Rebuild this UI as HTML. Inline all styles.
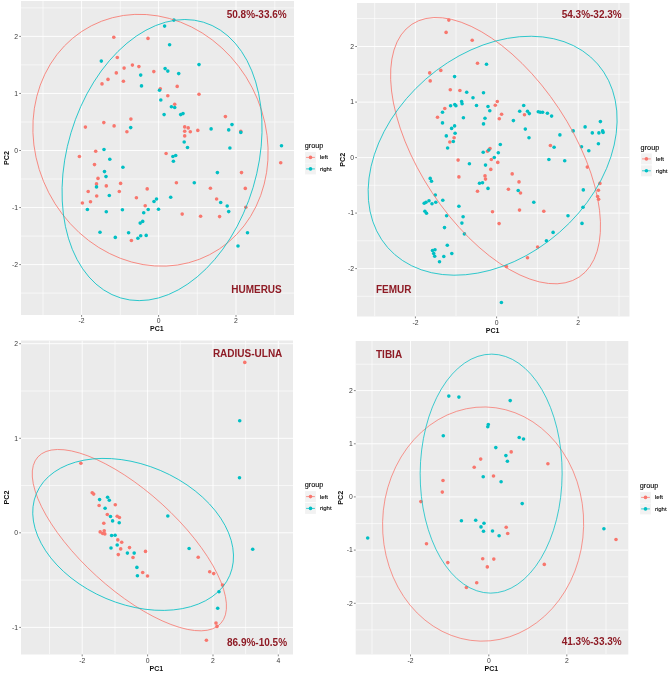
<!DOCTYPE html>
<html><head><meta charset="utf-8"><title>PCA</title>
<style>
html,body{margin:0;padding:0;background:#fff}
svg{display:block}
text{font-family:"Liberation Sans",Arial,sans-serif}
.tk{font-size:6.8px;fill:#3a3a3a}
.ax{font-size:8px;font-weight:bold;fill:#111}
.lb{font-size:10px;font-weight:bold;fill:#8E1B25}
.lt{font-size:7.3px;fill:#000;stroke:#000;stroke-width:0.1px}
.lg{font-size:6px;fill:#000;stroke:#000;stroke-width:0.1px}
</style></head><body>
<svg width="669" height="675" viewBox="0 0 669 675">
<rect width="669" height="675" fill="#fff"/>
<clipPath id="c0"><rect x="21" y="1" width="273" height="314"/></clipPath>
<rect x="21" y="1" width="273" height="314" fill="#EBEBEB"/>
<g clip-path="url(#c0)">
<line x1="43" x2="43" y1="1" y2="315" stroke="#FFFFFF" stroke-width="0.6"/>
<line x1="120.3" x2="120.3" y1="1" y2="315" stroke="#FFFFFF" stroke-width="0.6"/>
<line x1="197.3" x2="197.3" y1="1" y2="315" stroke="#FFFFFF" stroke-width="0.6"/>
<line x1="274.8" x2="274.8" y1="1" y2="315" stroke="#FFFFFF" stroke-width="0.6"/>
<line y1="7.9" y2="7.9" x1="21" x2="294" stroke="#FFFFFF" stroke-width="0.6"/>
<line y1="64.9" y2="64.9" x1="21" x2="294" stroke="#FFFFFF" stroke-width="0.6"/>
<line y1="122" y2="122" x1="21" x2="294" stroke="#FFFFFF" stroke-width="0.6"/>
<line y1="179" y2="179" x1="21" x2="294" stroke="#FFFFFF" stroke-width="0.6"/>
<line y1="236.1" y2="236.1" x1="21" x2="294" stroke="#FFFFFF" stroke-width="0.6"/>
<line y1="293.1" y2="293.1" x1="21" x2="294" stroke="#FFFFFF" stroke-width="0.6"/>
<line x1="81.6" x2="81.6" y1="1" y2="315" stroke="#FFFFFF" stroke-width="0.9"/>
<line x1="158.6" x2="158.6" y1="1" y2="315" stroke="#FFFFFF" stroke-width="0.9"/>
<line x1="236" x2="236" y1="1" y2="315" stroke="#FFFFFF" stroke-width="0.9"/>
<line y1="36.4" y2="36.4" x1="21" x2="294" stroke="#FFFFFF" stroke-width="0.9"/>
<line y1="93.45" y2="93.45" x1="21" x2="294" stroke="#FFFFFF" stroke-width="0.9"/>
<line y1="150.5" y2="150.5" x1="21" x2="294" stroke="#FFFFFF" stroke-width="0.9"/>
<line y1="207.55" y2="207.55" x1="21" x2="294" stroke="#FFFFFF" stroke-width="0.9"/>
<line y1="264.6" y2="264.6" x1="21" x2="294" stroke="#FFFFFF" stroke-width="0.9"/>
<circle cx="113.8" cy="37.2" r="1.8" fill="#F8766D"/>
<circle cx="148.0" cy="38.4" r="1.8" fill="#F8766D"/>
<circle cx="117.3" cy="57.5" r="1.8" fill="#F8766D"/>
<circle cx="132.4" cy="65.1" r="1.8" fill="#F8766D"/>
<circle cx="138.9" cy="66.6" r="1.8" fill="#F8766D"/>
<circle cx="124.1" cy="68.1" r="1.8" fill="#F8766D"/>
<circle cx="153.8" cy="71.6" r="1.8" fill="#F8766D"/>
<circle cx="116.3" cy="72.9" r="1.8" fill="#F8766D"/>
<circle cx="108.0" cy="79.4" r="1.8" fill="#F8766D"/>
<circle cx="123.4" cy="81.2" r="1.8" fill="#F8766D"/>
<circle cx="102.0" cy="83.9" r="1.8" fill="#F8766D"/>
<circle cx="160.3" cy="88.7" r="1.8" fill="#F8766D"/>
<circle cx="167.8" cy="95.7" r="1.8" fill="#F8766D"/>
<circle cx="130.9" cy="119.1" r="1.8" fill="#F8766D"/>
<circle cx="103.8" cy="122.6" r="1.8" fill="#F8766D"/>
<circle cx="114.1" cy="125.9" r="1.8" fill="#F8766D"/>
<circle cx="85.4" cy="127.1" r="1.8" fill="#F8766D"/>
<circle cx="126.9" cy="131.7" r="1.8" fill="#F8766D"/>
<circle cx="95.7" cy="151.3" r="1.8" fill="#F8766D"/>
<circle cx="79.4" cy="156.5" r="1.8" fill="#F8766D"/>
<circle cx="94.5" cy="164.6" r="1.8" fill="#F8766D"/>
<circle cx="166.1" cy="153.5" r="1.8" fill="#F8766D"/>
<circle cx="177.2" cy="86.4" r="1.8" fill="#F8766D"/>
<circle cx="199.0" cy="94.2" r="1.8" fill="#F8766D"/>
<circle cx="174.7" cy="104.3" r="1.8" fill="#F8766D"/>
<circle cx="225.4" cy="116.6" r="1.8" fill="#F8766D"/>
<circle cx="184.7" cy="126.9" r="1.8" fill="#F8766D"/>
<circle cx="188.2" cy="127.9" r="1.8" fill="#F8766D"/>
<circle cx="184.7" cy="131.2" r="1.8" fill="#F8766D"/>
<circle cx="190.3" cy="131.7" r="1.8" fill="#F8766D"/>
<circle cx="197.8" cy="130.4" r="1.8" fill="#F8766D"/>
<circle cx="240.8" cy="131.2" r="1.8" fill="#F8766D"/>
<circle cx="184.7" cy="135.9" r="1.8" fill="#F8766D"/>
<circle cx="280.7" cy="162.8" r="1.8" fill="#F8766D"/>
<circle cx="98.0" cy="178.4" r="1.8" fill="#F8766D"/>
<circle cx="96.5" cy="183.9" r="1.8" fill="#F8766D"/>
<circle cx="120.6" cy="183.4" r="1.8" fill="#F8766D"/>
<circle cx="106.3" cy="185.9" r="1.8" fill="#F8766D"/>
<circle cx="88.2" cy="191.5" r="1.8" fill="#F8766D"/>
<circle cx="119.3" cy="191.5" r="1.8" fill="#F8766D"/>
<circle cx="147.2" cy="188.9" r="1.8" fill="#F8766D"/>
<circle cx="96.7" cy="196.0" r="1.8" fill="#F8766D"/>
<circle cx="136.4" cy="197.7" r="1.8" fill="#F8766D"/>
<circle cx="90.5" cy="201.8" r="1.8" fill="#F8766D"/>
<circle cx="82.4" cy="203.0" r="1.8" fill="#F8766D"/>
<circle cx="145.2" cy="205.8" r="1.8" fill="#F8766D"/>
<circle cx="131.4" cy="240.5" r="1.8" fill="#F8766D"/>
<circle cx="241.5" cy="172.6" r="1.8" fill="#F8766D"/>
<circle cx="176.4" cy="182.7" r="1.8" fill="#F8766D"/>
<circle cx="210.4" cy="188.2" r="1.8" fill="#F8766D"/>
<circle cx="245.3" cy="188.4" r="1.8" fill="#F8766D"/>
<circle cx="216.6" cy="199.0" r="1.8" fill="#F8766D"/>
<circle cx="245.8" cy="207.3" r="1.8" fill="#F8766D"/>
<circle cx="182.2" cy="214.1" r="1.8" fill="#F8766D"/>
<circle cx="200.6" cy="216.3" r="1.8" fill="#F8766D"/>
<circle cx="219.6" cy="216.6" r="1.8" fill="#F8766D"/>
<circle cx="164.6" cy="26.1" r="1.8" fill="#00BFC4"/>
<circle cx="101.3" cy="61.1" r="1.8" fill="#00BFC4"/>
<circle cx="165.1" cy="68.6" r="1.8" fill="#00BFC4"/>
<circle cx="167.8" cy="71.1" r="1.8" fill="#00BFC4"/>
<circle cx="140.7" cy="75.1" r="1.8" fill="#00BFC4"/>
<circle cx="141.5" cy="85.9" r="1.8" fill="#00BFC4"/>
<circle cx="159.5" cy="90.2" r="1.8" fill="#00BFC4"/>
<circle cx="160.8" cy="100.0" r="1.8" fill="#00BFC4"/>
<circle cx="164.1" cy="114.6" r="1.8" fill="#00BFC4"/>
<circle cx="130.7" cy="127.6" r="1.8" fill="#00BFC4"/>
<circle cx="104.0" cy="149.5" r="1.8" fill="#00BFC4"/>
<circle cx="109.8" cy="159.3" r="1.8" fill="#00BFC4"/>
<circle cx="122.9" cy="167.3" r="1.8" fill="#00BFC4"/>
<circle cx="173.9" cy="20.1" r="1.8" fill="#00BFC4"/>
<circle cx="169.6" cy="44.7" r="1.8" fill="#00BFC4"/>
<circle cx="199.0" cy="64.6" r="1.8" fill="#00BFC4"/>
<circle cx="178.7" cy="73.6" r="1.8" fill="#00BFC4"/>
<circle cx="171.4" cy="106.8" r="1.8" fill="#00BFC4"/>
<circle cx="174.7" cy="107.5" r="1.8" fill="#00BFC4"/>
<circle cx="180.7" cy="114.6" r="1.8" fill="#00BFC4"/>
<circle cx="183.0" cy="113.6" r="1.8" fill="#00BFC4"/>
<circle cx="211.1" cy="128.9" r="1.8" fill="#00BFC4"/>
<circle cx="232.0" cy="124.6" r="1.8" fill="#00BFC4"/>
<circle cx="228.7" cy="129.9" r="1.8" fill="#00BFC4"/>
<circle cx="240.8" cy="132.4" r="1.8" fill="#00BFC4"/>
<circle cx="184.2" cy="142.0" r="1.8" fill="#00BFC4"/>
<circle cx="187.5" cy="147.5" r="1.8" fill="#00BFC4"/>
<circle cx="229.9" cy="148.0" r="1.8" fill="#00BFC4"/>
<circle cx="281.5" cy="145.7" r="1.8" fill="#00BFC4"/>
<circle cx="172.9" cy="156.5" r="1.8" fill="#00BFC4"/>
<circle cx="175.7" cy="155.5" r="1.8" fill="#00BFC4"/>
<circle cx="173.4" cy="161.3" r="1.8" fill="#00BFC4"/>
<circle cx="104.5" cy="171.6" r="1.8" fill="#00BFC4"/>
<circle cx="106.0" cy="176.6" r="1.8" fill="#00BFC4"/>
<circle cx="96.5" cy="186.9" r="1.8" fill="#00BFC4"/>
<circle cx="109.3" cy="195.5" r="1.8" fill="#00BFC4"/>
<circle cx="156.5" cy="199.0" r="1.8" fill="#00BFC4"/>
<circle cx="154.0" cy="201.5" r="1.8" fill="#00BFC4"/>
<circle cx="87.4" cy="209.5" r="1.8" fill="#00BFC4"/>
<circle cx="106.3" cy="211.8" r="1.8" fill="#00BFC4"/>
<circle cx="122.4" cy="209.8" r="1.8" fill="#00BFC4"/>
<circle cx="148.2" cy="209.5" r="1.8" fill="#00BFC4"/>
<circle cx="158.5" cy="209.3" r="1.8" fill="#00BFC4"/>
<circle cx="143.7" cy="212.8" r="1.8" fill="#00BFC4"/>
<circle cx="142.7" cy="221.4" r="1.8" fill="#00BFC4"/>
<circle cx="140.2" cy="223.1" r="1.8" fill="#00BFC4"/>
<circle cx="100.0" cy="232.2" r="1.8" fill="#00BFC4"/>
<circle cx="128.6" cy="232.7" r="1.8" fill="#00BFC4"/>
<circle cx="115.3" cy="237.4" r="1.8" fill="#00BFC4"/>
<circle cx="146.2" cy="235.4" r="1.8" fill="#00BFC4"/>
<circle cx="140.7" cy="235.7" r="1.8" fill="#00BFC4"/>
<circle cx="137.9" cy="238.2" r="1.8" fill="#00BFC4"/>
<circle cx="217.4" cy="172.6" r="1.8" fill="#00BFC4"/>
<circle cx="194.3" cy="182.7" r="1.8" fill="#00BFC4"/>
<circle cx="170.7" cy="197.2" r="1.8" fill="#00BFC4"/>
<circle cx="220.7" cy="202.5" r="1.8" fill="#00BFC4"/>
<circle cx="227.2" cy="206.0" r="1.8" fill="#00BFC4"/>
<circle cx="228.7" cy="211.6" r="1.8" fill="#00BFC4"/>
<circle cx="247.5" cy="232.7" r="1.8" fill="#00BFC4"/>
<circle cx="238.0" cy="246.0" r="1.8" fill="#00BFC4"/>
<ellipse cx="150.49" cy="140.24" rx="114.47" ry="128.82" transform="rotate(152.69 150.49 140.24)" fill="none" stroke="#F8766D" stroke-width="0.75"/>
<ellipse cx="162.05" cy="160.07" rx="95.07" ry="143.95" transform="rotate(-163.30 162.05 160.07)" fill="none" stroke="#00BFC4" stroke-width="0.75"/>
</g>
<line x1="81.6" x2="81.6" y1="315" y2="316.8" stroke="#333" stroke-width="0.6"/>
<text x="81.6" y="323.2" text-anchor="middle" class="tk">-2</text>
<line x1="158.6" x2="158.6" y1="315" y2="316.8" stroke="#333" stroke-width="0.6"/>
<text x="158.6" y="323.2" text-anchor="middle" class="tk">0</text>
<line x1="236" x2="236" y1="315" y2="316.8" stroke="#333" stroke-width="0.6"/>
<text x="236" y="323.2" text-anchor="middle" class="tk">2</text>
<line x1="19.2" x2="21" y1="36.4" y2="36.4" stroke="#333" stroke-width="0.6"/>
<text x="18" y="38.6" text-anchor="end" class="tk">2</text>
<line x1="19.2" x2="21" y1="93.45" y2="93.45" stroke="#333" stroke-width="0.6"/>
<text x="18" y="95.65" text-anchor="end" class="tk">1</text>
<line x1="19.2" x2="21" y1="150.5" y2="150.5" stroke="#333" stroke-width="0.6"/>
<text x="18" y="152.7" text-anchor="end" class="tk">0</text>
<line x1="19.2" x2="21" y1="207.55" y2="207.55" stroke="#333" stroke-width="0.6"/>
<text x="18" y="209.75" text-anchor="end" class="tk">-1</text>
<line x1="19.2" x2="21" y1="264.6" y2="264.6" stroke="#333" stroke-width="0.6"/>
<text x="18" y="266.8" text-anchor="end" class="tk">-2</text>
<text x="156.9" y="331.4" text-anchor="middle" textLength="13.6" lengthAdjust="spacingAndGlyphs" class="ax">PC1</text>
<text transform="translate(8.7 158.0) rotate(-90)" text-anchor="middle" textLength="13.9" lengthAdjust="spacingAndGlyphs" class="ax">PC2</text>
<text x="226.7" y="18.1" class="lb">50.8%-33.6%</text>
<text x="231.2" y="292.8" class="lb">HUMERUS</text>
<text x="304.7" y="147.7" class="lt">group</text>
<rect x="305.09999999999997" y="151.9" width="10.8" height="11" fill="#F2F2F2"/>
<line x1="306.09999999999997" x2="314.9" y1="157.4" y2="157.4" stroke="#F8766D" stroke-width="0.75"/>
<circle cx="310.5" cy="157.4" r="1.8" fill="#F8766D"/>
<text x="319.9" y="159.4" class="lg">left</text>
<rect x="305.09999999999997" y="163.4" width="10.8" height="11" fill="#F2F2F2"/>
<line x1="306.09999999999997" x2="314.9" y1="168.9" y2="168.9" stroke="#00BFC4" stroke-width="0.75"/>
<circle cx="310.5" cy="168.9" r="1.8" fill="#00BFC4"/>
<text x="319.9" y="170.9" class="lg">right</text>
<clipPath id="c1"><rect x="357" y="3" width="272.5" height="313.5"/></clipPath>
<rect x="357" y="3" width="272.5" height="313.5" fill="#EBEBEB"/>
<g clip-path="url(#c1)">
<line x1="374.7" x2="374.7" y1="3" y2="316.5" stroke="#FFFFFF" stroke-width="0.6"/>
<line x1="456" x2="456" y1="3" y2="316.5" stroke="#FFFFFF" stroke-width="0.6"/>
<line x1="537.4" x2="537.4" y1="3" y2="316.5" stroke="#FFFFFF" stroke-width="0.6"/>
<line x1="619" x2="619" y1="3" y2="316.5" stroke="#FFFFFF" stroke-width="0.6"/>
<line y1="18.5" y2="18.5" x1="357" x2="629.5" stroke="#FFFFFF" stroke-width="0.6"/>
<line y1="74.3" y2="74.3" x1="357" x2="629.5" stroke="#FFFFFF" stroke-width="0.6"/>
<line y1="129.8" y2="129.8" x1="357" x2="629.5" stroke="#FFFFFF" stroke-width="0.6"/>
<line y1="185.3" y2="185.3" x1="357" x2="629.5" stroke="#FFFFFF" stroke-width="0.6"/>
<line y1="240.8" y2="240.8" x1="357" x2="629.5" stroke="#FFFFFF" stroke-width="0.6"/>
<line y1="296.3" y2="296.3" x1="357" x2="629.5" stroke="#FFFFFF" stroke-width="0.6"/>
<line x1="415.4" x2="415.4" y1="3" y2="316.5" stroke="#FFFFFF" stroke-width="0.9"/>
<line x1="496.6" x2="496.6" y1="3" y2="316.5" stroke="#FFFFFF" stroke-width="0.9"/>
<line x1="578.2" x2="578.2" y1="3" y2="316.5" stroke="#FFFFFF" stroke-width="0.9"/>
<line y1="46.5" y2="46.5" x1="357" x2="629.5" stroke="#FFFFFF" stroke-width="0.9"/>
<line y1="102.1" y2="102.1" x1="357" x2="629.5" stroke="#FFFFFF" stroke-width="0.9"/>
<line y1="157.6" y2="157.6" x1="357" x2="629.5" stroke="#FFFFFF" stroke-width="0.9"/>
<line y1="213.1" y2="213.1" x1="357" x2="629.5" stroke="#FFFFFF" stroke-width="0.9"/>
<line y1="268.6" y2="268.6" x1="357" x2="629.5" stroke="#FFFFFF" stroke-width="0.9"/>
<circle cx="448.8" cy="20.1" r="1.8" fill="#F8766D"/>
<circle cx="446.1" cy="32.4" r="1.8" fill="#F8766D"/>
<circle cx="472.2" cy="40.2" r="1.8" fill="#F8766D"/>
<circle cx="477.5" cy="63.3" r="1.8" fill="#F8766D"/>
<circle cx="429.7" cy="72.9" r="1.8" fill="#F8766D"/>
<circle cx="440.8" cy="70.4" r="1.8" fill="#F8766D"/>
<circle cx="430.2" cy="80.9" r="1.8" fill="#F8766D"/>
<circle cx="450.3" cy="89.7" r="1.8" fill="#F8766D"/>
<circle cx="459.9" cy="90.5" r="1.8" fill="#F8766D"/>
<circle cx="497.3" cy="101.5" r="1.8" fill="#F8766D"/>
<circle cx="495.3" cy="105.3" r="1.8" fill="#F8766D"/>
<circle cx="444.8" cy="108.5" r="1.8" fill="#F8766D"/>
<circle cx="437.5" cy="117.3" r="1.8" fill="#F8766D"/>
<circle cx="501.6" cy="114.3" r="1.8" fill="#F8766D"/>
<circle cx="499.3" cy="118.8" r="1.8" fill="#F8766D"/>
<circle cx="454.1" cy="137.7" r="1.8" fill="#F8766D"/>
<circle cx="449.8" cy="142.0" r="1.8" fill="#F8766D"/>
<circle cx="490.0" cy="148.5" r="1.8" fill="#F8766D"/>
<circle cx="487.5" cy="151.3" r="1.8" fill="#F8766D"/>
<circle cx="458.1" cy="160.1" r="1.8" fill="#F8766D"/>
<circle cx="491.3" cy="159.5" r="1.8" fill="#F8766D"/>
<circle cx="497.8" cy="162.4" r="1.8" fill="#F8766D"/>
<circle cx="490.8" cy="169.4" r="1.8" fill="#F8766D"/>
<circle cx="524.5" cy="114.8" r="1.8" fill="#F8766D"/>
<circle cx="550.4" cy="145.5" r="1.8" fill="#F8766D"/>
<circle cx="587.3" cy="167.1" r="1.8" fill="#F8766D"/>
<circle cx="458.9" cy="176.9" r="1.8" fill="#F8766D"/>
<circle cx="485.0" cy="175.9" r="1.8" fill="#F8766D"/>
<circle cx="485.5" cy="179.1" r="1.8" fill="#F8766D"/>
<circle cx="477.5" cy="191.2" r="1.8" fill="#F8766D"/>
<circle cx="492.5" cy="211.8" r="1.8" fill="#F8766D"/>
<circle cx="499.1" cy="223.6" r="1.8" fill="#F8766D"/>
<circle cx="512.2" cy="173.9" r="1.8" fill="#F8766D"/>
<circle cx="519.0" cy="181.9" r="1.8" fill="#F8766D"/>
<circle cx="508.4" cy="189.2" r="1.8" fill="#F8766D"/>
<circle cx="520.5" cy="193.0" r="1.8" fill="#F8766D"/>
<circle cx="519.5" cy="210.1" r="1.8" fill="#F8766D"/>
<circle cx="543.8" cy="211.3" r="1.8" fill="#F8766D"/>
<circle cx="599.9" cy="183.4" r="1.8" fill="#F8766D"/>
<circle cx="598.4" cy="190.2" r="1.8" fill="#F8766D"/>
<circle cx="597.6" cy="196.5" r="1.8" fill="#F8766D"/>
<circle cx="598.6" cy="199.2" r="1.8" fill="#F8766D"/>
<circle cx="537.6" cy="247.0" r="1.8" fill="#F8766D"/>
<circle cx="527.5" cy="257.8" r="1.8" fill="#F8766D"/>
<circle cx="506.4" cy="266.6" r="1.8" fill="#F8766D"/>
<circle cx="486.5" cy="64.3" r="1.8" fill="#00BFC4"/>
<circle cx="454.6" cy="76.6" r="1.8" fill="#00BFC4"/>
<circle cx="466.7" cy="92.2" r="1.8" fill="#00BFC4"/>
<circle cx="483.5" cy="92.7" r="1.8" fill="#00BFC4"/>
<circle cx="473.0" cy="97.7" r="1.8" fill="#00BFC4"/>
<circle cx="461.6" cy="101.5" r="1.8" fill="#00BFC4"/>
<circle cx="462.1" cy="103.8" r="1.8" fill="#00BFC4"/>
<circle cx="454.8" cy="104.5" r="1.8" fill="#00BFC4"/>
<circle cx="455.9" cy="105.8" r="1.8" fill="#00BFC4"/>
<circle cx="450.6" cy="105.8" r="1.8" fill="#00BFC4"/>
<circle cx="476.5" cy="105.5" r="1.8" fill="#00BFC4"/>
<circle cx="488.0" cy="106.5" r="1.8" fill="#00BFC4"/>
<circle cx="489.8" cy="110.8" r="1.8" fill="#00BFC4"/>
<circle cx="442.5" cy="112.3" r="1.8" fill="#00BFC4"/>
<circle cx="463.4" cy="117.8" r="1.8" fill="#00BFC4"/>
<circle cx="485.0" cy="118.3" r="1.8" fill="#00BFC4"/>
<circle cx="442.5" cy="122.9" r="1.8" fill="#00BFC4"/>
<circle cx="483.5" cy="123.9" r="1.8" fill="#00BFC4"/>
<circle cx="454.6" cy="125.9" r="1.8" fill="#00BFC4"/>
<circle cx="451.6" cy="128.4" r="1.8" fill="#00BFC4"/>
<circle cx="455.1" cy="133.2" r="1.8" fill="#00BFC4"/>
<circle cx="446.3" cy="135.9" r="1.8" fill="#00BFC4"/>
<circle cx="453.3" cy="141.5" r="1.8" fill="#00BFC4"/>
<circle cx="447.6" cy="148.0" r="1.8" fill="#00BFC4"/>
<circle cx="500.3" cy="144.5" r="1.8" fill="#00BFC4"/>
<circle cx="488.8" cy="150.0" r="1.8" fill="#00BFC4"/>
<circle cx="483.2" cy="152.3" r="1.8" fill="#00BFC4"/>
<circle cx="498.3" cy="152.8" r="1.8" fill="#00BFC4"/>
<circle cx="494.3" cy="157.5" r="1.8" fill="#00BFC4"/>
<circle cx="469.4" cy="163.8" r="1.8" fill="#00BFC4"/>
<circle cx="485.5" cy="165.1" r="1.8" fill="#00BFC4"/>
<circle cx="523.7" cy="105.5" r="1.8" fill="#00BFC4"/>
<circle cx="519.7" cy="111.3" r="1.8" fill="#00BFC4"/>
<circle cx="527.5" cy="111.3" r="1.8" fill="#00BFC4"/>
<circle cx="529.3" cy="113.6" r="1.8" fill="#00BFC4"/>
<circle cx="513.4" cy="120.6" r="1.8" fill="#00BFC4"/>
<circle cx="538.3" cy="111.8" r="1.8" fill="#00BFC4"/>
<circle cx="540.3" cy="112.3" r="1.8" fill="#00BFC4"/>
<circle cx="542.6" cy="112.3" r="1.8" fill="#00BFC4"/>
<circle cx="547.4" cy="113.3" r="1.8" fill="#00BFC4"/>
<circle cx="551.6" cy="116.1" r="1.8" fill="#00BFC4"/>
<circle cx="525.3" cy="129.1" r="1.8" fill="#00BFC4"/>
<circle cx="529.0" cy="137.7" r="1.8" fill="#00BFC4"/>
<circle cx="559.9" cy="134.9" r="1.8" fill="#00BFC4"/>
<circle cx="573.2" cy="130.9" r="1.8" fill="#00BFC4"/>
<circle cx="585.1" cy="126.9" r="1.8" fill="#00BFC4"/>
<circle cx="600.4" cy="121.6" r="1.8" fill="#00BFC4"/>
<circle cx="592.3" cy="132.9" r="1.8" fill="#00BFC4"/>
<circle cx="598.9" cy="132.9" r="1.8" fill="#00BFC4"/>
<circle cx="602.6" cy="130.9" r="1.8" fill="#00BFC4"/>
<circle cx="603.1" cy="132.4" r="1.8" fill="#00BFC4"/>
<circle cx="598.4" cy="143.7" r="1.8" fill="#00BFC4"/>
<circle cx="581.5" cy="146.7" r="1.8" fill="#00BFC4"/>
<circle cx="588.8" cy="150.8" r="1.8" fill="#00BFC4"/>
<circle cx="554.1" cy="147.2" r="1.8" fill="#00BFC4"/>
<circle cx="548.9" cy="159.5" r="1.8" fill="#00BFC4"/>
<circle cx="564.7" cy="160.8" r="1.8" fill="#00BFC4"/>
<circle cx="430.2" cy="178.4" r="1.8" fill="#00BFC4"/>
<circle cx="431.5" cy="181.2" r="1.8" fill="#00BFC4"/>
<circle cx="479.5" cy="183.2" r="1.8" fill="#00BFC4"/>
<circle cx="482.5" cy="182.7" r="1.8" fill="#00BFC4"/>
<circle cx="488.0" cy="188.4" r="1.8" fill="#00BFC4"/>
<circle cx="435.3" cy="195.0" r="1.8" fill="#00BFC4"/>
<circle cx="442.8" cy="200.3" r="1.8" fill="#00BFC4"/>
<circle cx="429.0" cy="200.8" r="1.8" fill="#00BFC4"/>
<circle cx="435.8" cy="202.3" r="1.8" fill="#00BFC4"/>
<circle cx="424.2" cy="203.3" r="1.8" fill="#00BFC4"/>
<circle cx="426.0" cy="202.3" r="1.8" fill="#00BFC4"/>
<circle cx="432.0" cy="203.8" r="1.8" fill="#00BFC4"/>
<circle cx="458.9" cy="206.3" r="1.8" fill="#00BFC4"/>
<circle cx="424.9" cy="211.3" r="1.8" fill="#00BFC4"/>
<circle cx="426.5" cy="213.3" r="1.8" fill="#00BFC4"/>
<circle cx="446.6" cy="215.8" r="1.8" fill="#00BFC4"/>
<circle cx="463.1" cy="216.8" r="1.8" fill="#00BFC4"/>
<circle cx="461.9" cy="223.1" r="1.8" fill="#00BFC4"/>
<circle cx="444.5" cy="227.6" r="1.8" fill="#00BFC4"/>
<circle cx="464.4" cy="233.9" r="1.8" fill="#00BFC4"/>
<circle cx="447.3" cy="245.2" r="1.8" fill="#00BFC4"/>
<circle cx="432.5" cy="250.5" r="1.8" fill="#00BFC4"/>
<circle cx="435.0" cy="249.7" r="1.8" fill="#00BFC4"/>
<circle cx="433.7" cy="253.5" r="1.8" fill="#00BFC4"/>
<circle cx="434.7" cy="256.3" r="1.8" fill="#00BFC4"/>
<circle cx="451.8" cy="253.5" r="1.8" fill="#00BFC4"/>
<circle cx="443.8" cy="256.5" r="1.8" fill="#00BFC4"/>
<circle cx="439.5" cy="261.8" r="1.8" fill="#00BFC4"/>
<circle cx="501.4" cy="302.5" r="1.8" fill="#00BFC4"/>
<circle cx="518.2" cy="190.5" r="1.8" fill="#00BFC4"/>
<circle cx="583.3" cy="189.9" r="1.8" fill="#00BFC4"/>
<circle cx="533.8" cy="202.3" r="1.8" fill="#00BFC4"/>
<circle cx="583.0" cy="207.3" r="1.8" fill="#00BFC4"/>
<circle cx="568.0" cy="215.8" r="1.8" fill="#00BFC4"/>
<circle cx="582.0" cy="223.4" r="1.8" fill="#00BFC4"/>
<circle cx="553.1" cy="232.4" r="1.8" fill="#00BFC4"/>
<circle cx="546.4" cy="240.7" r="1.8" fill="#00BFC4"/>
<ellipse cx="495.55" cy="150.66" rx="76.07" ry="151.55" transform="rotate(146.50 495.55 150.66)" fill="none" stroke="#F8766D" stroke-width="0.75"/>
<ellipse cx="492.62" cy="155.73" rx="101.67" ry="139.42" transform="rotate(48.86 492.62 155.73)" fill="none" stroke="#00BFC4" stroke-width="0.75"/>
</g>
<line x1="415.4" x2="415.4" y1="316.5" y2="318.3" stroke="#333" stroke-width="0.6"/>
<text x="415.4" y="324.7" text-anchor="middle" class="tk">-2</text>
<line x1="496.6" x2="496.6" y1="316.5" y2="318.3" stroke="#333" stroke-width="0.6"/>
<text x="496.6" y="324.7" text-anchor="middle" class="tk">0</text>
<line x1="578.2" x2="578.2" y1="316.5" y2="318.3" stroke="#333" stroke-width="0.6"/>
<text x="578.2" y="324.7" text-anchor="middle" class="tk">2</text>
<line x1="355.2" x2="357" y1="46.5" y2="46.5" stroke="#333" stroke-width="0.6"/>
<text x="354" y="48.7" text-anchor="end" class="tk">2</text>
<line x1="355.2" x2="357" y1="102.1" y2="102.1" stroke="#333" stroke-width="0.6"/>
<text x="354" y="104.3" text-anchor="end" class="tk">1</text>
<line x1="355.2" x2="357" y1="157.6" y2="157.6" stroke="#333" stroke-width="0.6"/>
<text x="354" y="159.79999999999998" text-anchor="end" class="tk">0</text>
<line x1="355.2" x2="357" y1="213.1" y2="213.1" stroke="#333" stroke-width="0.6"/>
<text x="354" y="215.29999999999998" text-anchor="end" class="tk">-1</text>
<line x1="355.2" x2="357" y1="268.6" y2="268.6" stroke="#333" stroke-width="0.6"/>
<text x="354" y="270.8" text-anchor="end" class="tk">-2</text>
<text x="492.65" y="332.9" text-anchor="middle" textLength="13.6" lengthAdjust="spacingAndGlyphs" class="ax">PC1</text>
<text transform="translate(344.7 159.75) rotate(-90)" text-anchor="middle" textLength="13.9" lengthAdjust="spacingAndGlyphs" class="ax">PC2</text>
<text x="561.7" y="18.1" class="lb">54.3%-32.3%</text>
<text x="376" y="292.8" class="lb">FEMUR</text>
<text x="640.6" y="149.5" class="lt">group</text>
<rect x="641.0" y="153.4" width="10.8" height="11" fill="#F2F2F2"/>
<line x1="642.0" x2="650.8000000000001" y1="158.9" y2="158.9" stroke="#F8766D" stroke-width="0.75"/>
<circle cx="646.4" cy="158.9" r="1.8" fill="#F8766D"/>
<text x="655.8000000000001" y="160.9" class="lg">left</text>
<rect x="641.0" y="165.3" width="10.8" height="11" fill="#F2F2F2"/>
<line x1="642.0" x2="650.8000000000001" y1="170.8" y2="170.8" stroke="#00BFC4" stroke-width="0.75"/>
<circle cx="646.4" cy="170.8" r="1.8" fill="#00BFC4"/>
<text x="655.8000000000001" y="172.8" class="lg">right</text>
<clipPath id="c2"><rect x="21" y="340.5" width="272" height="314.0"/></clipPath>
<rect x="21" y="340.5" width="272" height="314.0" fill="#EBEBEB"/>
<g clip-path="url(#c2)">
<line x1="49.5" x2="49.5" y1="340.5" y2="654.5" stroke="#FFFFFF" stroke-width="0.6"/>
<line x1="115" x2="115" y1="340.5" y2="654.5" stroke="#FFFFFF" stroke-width="0.6"/>
<line x1="180.3" x2="180.3" y1="340.5" y2="654.5" stroke="#FFFFFF" stroke-width="0.6"/>
<line x1="245.6" x2="245.6" y1="340.5" y2="654.5" stroke="#FFFFFF" stroke-width="0.6"/>
<line y1="391" y2="391" x1="21" x2="293" stroke="#FFFFFF" stroke-width="0.6"/>
<line y1="485.5" y2="485.5" x1="21" x2="293" stroke="#FFFFFF" stroke-width="0.6"/>
<line y1="580.1" y2="580.1" x1="21" x2="293" stroke="#FFFFFF" stroke-width="0.6"/>
<line x1="82.2" x2="82.2" y1="340.5" y2="654.5" stroke="#FFFFFF" stroke-width="0.9"/>
<line x1="147.6" x2="147.6" y1="340.5" y2="654.5" stroke="#FFFFFF" stroke-width="0.9"/>
<line x1="213" x2="213" y1="340.5" y2="654.5" stroke="#FFFFFF" stroke-width="0.9"/>
<line x1="278.3" x2="278.3" y1="340.5" y2="654.5" stroke="#FFFFFF" stroke-width="0.9"/>
<line y1="343.7" y2="343.7" x1="21" x2="293" stroke="#FFFFFF" stroke-width="0.9"/>
<line y1="438.3" y2="438.3" x1="21" x2="293" stroke="#FFFFFF" stroke-width="0.9"/>
<line y1="532.8" y2="532.8" x1="21" x2="293" stroke="#FFFFFF" stroke-width="0.9"/>
<line y1="627.4" y2="627.4" x1="21" x2="293" stroke="#FFFFFF" stroke-width="0.9"/>
<circle cx="92.2" cy="492.8" r="1.8" fill="#F8766D"/>
<circle cx="93.7" cy="494.1" r="1.8" fill="#F8766D"/>
<circle cx="99.1" cy="505.5" r="1.8" fill="#F8766D"/>
<circle cx="115.3" cy="504.8" r="1.8" fill="#F8766D"/>
<circle cx="107.3" cy="514.5" r="1.8" fill="#F8766D"/>
<circle cx="117.2" cy="516.2" r="1.8" fill="#F8766D"/>
<circle cx="119.4" cy="517.5" r="1.8" fill="#F8766D"/>
<circle cx="103.8" cy="523.2" r="1.8" fill="#F8766D"/>
<circle cx="100.2" cy="531.9" r="1.8" fill="#F8766D"/>
<circle cx="104.2" cy="530.8" r="1.8" fill="#F8766D"/>
<circle cx="102.7" cy="533.5" r="1.8" fill="#F8766D"/>
<circle cx="104.8" cy="533.9" r="1.8" fill="#F8766D"/>
<circle cx="117.8" cy="539.9" r="1.8" fill="#F8766D"/>
<circle cx="121.7" cy="542.3" r="1.8" fill="#F8766D"/>
<circle cx="129.5" cy="547.6" r="1.8" fill="#F8766D"/>
<circle cx="120.7" cy="548.9" r="1.8" fill="#F8766D"/>
<circle cx="145.5" cy="551.4" r="1.8" fill="#F8766D"/>
<circle cx="118.3" cy="554.6" r="1.8" fill="#F8766D"/>
<circle cx="133.0" cy="557.5" r="1.8" fill="#F8766D"/>
<circle cx="80.9" cy="463.2" r="1.8" fill="#F8766D"/>
<circle cx="142.7" cy="572.5" r="1.8" fill="#F8766D"/>
<circle cx="147.5" cy="576.0" r="1.8" fill="#F8766D"/>
<circle cx="244.8" cy="362.4" r="1.8" fill="#F8766D"/>
<circle cx="198.2" cy="557.3" r="1.8" fill="#F8766D"/>
<circle cx="209.7" cy="571.8" r="1.8" fill="#F8766D"/>
<circle cx="213.7" cy="573.6" r="1.8" fill="#F8766D"/>
<circle cx="222.5" cy="585.1" r="1.8" fill="#F8766D"/>
<circle cx="216.0" cy="623.1" r="1.8" fill="#F8766D"/>
<circle cx="217.0" cy="626.4" r="1.8" fill="#F8766D"/>
<circle cx="206.4" cy="640.2" r="1.8" fill="#F8766D"/>
<circle cx="99.6" cy="499.6" r="1.8" fill="#00BFC4"/>
<circle cx="107.6" cy="497.3" r="1.8" fill="#00BFC4"/>
<circle cx="109.3" cy="500.2" r="1.8" fill="#00BFC4"/>
<circle cx="105.1" cy="508.3" r="1.8" fill="#00BFC4"/>
<circle cx="110.5" cy="516.5" r="1.8" fill="#00BFC4"/>
<circle cx="112.6" cy="520.9" r="1.8" fill="#00BFC4"/>
<circle cx="119.2" cy="522.7" r="1.8" fill="#00BFC4"/>
<circle cx="111.6" cy="535.5" r="1.8" fill="#00BFC4"/>
<circle cx="115.1" cy="535.3" r="1.8" fill="#00BFC4"/>
<circle cx="117.2" cy="545.0" r="1.8" fill="#00BFC4"/>
<circle cx="111.0" cy="548.0" r="1.8" fill="#00BFC4"/>
<circle cx="127.4" cy="553.1" r="1.8" fill="#00BFC4"/>
<circle cx="134.2" cy="553.1" r="1.8" fill="#00BFC4"/>
<circle cx="136.9" cy="567.4" r="1.8" fill="#00BFC4"/>
<circle cx="137.4" cy="575.8" r="1.8" fill="#00BFC4"/>
<circle cx="167.8" cy="516.0" r="1.8" fill="#00BFC4"/>
<circle cx="239.7" cy="420.7" r="1.8" fill="#00BFC4"/>
<circle cx="239.5" cy="477.7" r="1.8" fill="#00BFC4"/>
<circle cx="189.1" cy="548.5" r="1.8" fill="#00BFC4"/>
<circle cx="252.7" cy="549.2" r="1.8" fill="#00BFC4"/>
<circle cx="219.0" cy="591.7" r="1.8" fill="#00BFC4"/>
<circle cx="217.7" cy="608.3" r="1.8" fill="#00BFC4"/>
<ellipse cx="129.35" cy="540.15" rx="48.65" ry="123.66" transform="rotate(132.31 129.35 540.15)" fill="none" stroke="#F8766D" stroke-width="0.75"/>
<ellipse cx="133.12" cy="534.41" rx="104.98" ry="69.54" transform="rotate(-157.04 133.12 534.41)" fill="none" stroke="#00BFC4" stroke-width="0.75"/>
</g>
<line x1="82.2" x2="82.2" y1="654.5" y2="656.3" stroke="#333" stroke-width="0.6"/>
<text x="82.2" y="662.7" text-anchor="middle" class="tk">-2</text>
<line x1="147.6" x2="147.6" y1="654.5" y2="656.3" stroke="#333" stroke-width="0.6"/>
<text x="147.6" y="662.7" text-anchor="middle" class="tk">0</text>
<line x1="213" x2="213" y1="654.5" y2="656.3" stroke="#333" stroke-width="0.6"/>
<text x="213" y="662.7" text-anchor="middle" class="tk">2</text>
<line x1="278.3" x2="278.3" y1="654.5" y2="656.3" stroke="#333" stroke-width="0.6"/>
<text x="278.3" y="662.7" text-anchor="middle" class="tk">4</text>
<line x1="19.2" x2="21" y1="343.7" y2="343.7" stroke="#333" stroke-width="0.6"/>
<text x="18" y="345.9" text-anchor="end" class="tk">2</text>
<line x1="19.2" x2="21" y1="438.3" y2="438.3" stroke="#333" stroke-width="0.6"/>
<text x="18" y="440.5" text-anchor="end" class="tk">1</text>
<line x1="19.2" x2="21" y1="532.8" y2="532.8" stroke="#333" stroke-width="0.6"/>
<text x="18" y="535.0" text-anchor="end" class="tk">0</text>
<line x1="19.2" x2="21" y1="627.4" y2="627.4" stroke="#333" stroke-width="0.6"/>
<text x="18" y="629.6" text-anchor="end" class="tk">-1</text>
<text x="156.4" y="670.9" text-anchor="middle" textLength="13.6" lengthAdjust="spacingAndGlyphs" class="ax">PC1</text>
<text transform="translate(8.7 497.5) rotate(-90)" text-anchor="middle" textLength="13.9" lengthAdjust="spacingAndGlyphs" class="ax">PC2</text>
<text x="212.9" y="357.2" class="lb">RADIUS-ULNA</text>
<text x="227" y="645.6" class="lb">86.9%-10.5%</text>
<text x="304.7" y="487" class="lt">group</text>
<rect x="305.09999999999997" y="491.1" width="10.8" height="11" fill="#F2F2F2"/>
<line x1="306.09999999999997" x2="314.9" y1="496.6" y2="496.6" stroke="#F8766D" stroke-width="0.75"/>
<circle cx="310.5" cy="496.6" r="1.8" fill="#F8766D"/>
<text x="319.9" y="498.6" class="lg">left</text>
<rect x="305.09999999999997" y="502.9" width="10.8" height="11" fill="#F2F2F2"/>
<line x1="306.09999999999997" x2="314.9" y1="508.4" y2="508.4" stroke="#00BFC4" stroke-width="0.75"/>
<circle cx="310.5" cy="508.4" r="1.8" fill="#00BFC4"/>
<text x="319.9" y="510.4" class="lg">right</text>
<clipPath id="c3"><rect x="355.7" y="341" width="272.59999999999997" height="313.5"/></clipPath>
<rect x="355.7" y="341" width="272.59999999999997" height="313.5" fill="#EBEBEB"/>
<g clip-path="url(#c3)">
<line x1="372" x2="372" y1="341" y2="654.5" stroke="#FFFFFF" stroke-width="0.6"/>
<line x1="449.6" x2="449.6" y1="341" y2="654.5" stroke="#FFFFFF" stroke-width="0.6"/>
<line x1="527.5" x2="527.5" y1="341" y2="654.5" stroke="#FFFFFF" stroke-width="0.6"/>
<line x1="606" x2="606" y1="341" y2="654.5" stroke="#FFFFFF" stroke-width="0.6"/>
<line y1="364.2" y2="364.2" x1="355.7" x2="628.3" stroke="#FFFFFF" stroke-width="0.6"/>
<line y1="417.3" y2="417.3" x1="355.7" x2="628.3" stroke="#FFFFFF" stroke-width="0.6"/>
<line y1="470.4" y2="470.4" x1="355.7" x2="628.3" stroke="#FFFFFF" stroke-width="0.6"/>
<line y1="523.6" y2="523.6" x1="355.7" x2="628.3" stroke="#FFFFFF" stroke-width="0.6"/>
<line y1="576.8" y2="576.8" x1="355.7" x2="628.3" stroke="#FFFFFF" stroke-width="0.6"/>
<line y1="629.9" y2="629.9" x1="355.7" x2="628.3" stroke="#FFFFFF" stroke-width="0.6"/>
<line x1="410.5" x2="410.5" y1="341" y2="654.5" stroke="#FFFFFF" stroke-width="0.9"/>
<line x1="488.8" x2="488.8" y1="341" y2="654.5" stroke="#FFFFFF" stroke-width="0.9"/>
<line x1="566.8" x2="566.8" y1="341" y2="654.5" stroke="#FFFFFF" stroke-width="0.9"/>
<line y1="390.6" y2="390.6" x1="355.7" x2="628.3" stroke="#FFFFFF" stroke-width="0.9"/>
<line y1="443.8" y2="443.8" x1="355.7" x2="628.3" stroke="#FFFFFF" stroke-width="0.9"/>
<line y1="496.9" y2="496.9" x1="355.7" x2="628.3" stroke="#FFFFFF" stroke-width="0.9"/>
<line y1="550.1" y2="550.1" x1="355.7" x2="628.3" stroke="#FFFFFF" stroke-width="0.9"/>
<line y1="603.3" y2="603.3" x1="355.7" x2="628.3" stroke="#FFFFFF" stroke-width="0.9"/>
<circle cx="480.7" cy="459.1" r="1.8" fill="#F8766D"/>
<circle cx="474.2" cy="467.2" r="1.8" fill="#F8766D"/>
<circle cx="493.5" cy="476.0" r="1.8" fill="#F8766D"/>
<circle cx="443.0" cy="480.5" r="1.8" fill="#F8766D"/>
<circle cx="442.3" cy="492.1" r="1.8" fill="#F8766D"/>
<circle cx="511.2" cy="451.9" r="1.8" fill="#F8766D"/>
<circle cx="547.9" cy="463.7" r="1.8" fill="#F8766D"/>
<circle cx="420.9" cy="501.6" r="1.8" fill="#F8766D"/>
<circle cx="426.5" cy="543.8" r="1.8" fill="#F8766D"/>
<circle cx="447.8" cy="562.6" r="1.8" fill="#F8766D"/>
<circle cx="482.7" cy="558.8" r="1.8" fill="#F8766D"/>
<circle cx="493.8" cy="559.1" r="1.8" fill="#F8766D"/>
<circle cx="487.3" cy="566.9" r="1.8" fill="#F8766D"/>
<circle cx="476.7" cy="582.7" r="1.8" fill="#F8766D"/>
<circle cx="466.4" cy="587.5" r="1.8" fill="#F8766D"/>
<circle cx="506.2" cy="527.2" r="1.8" fill="#F8766D"/>
<circle cx="507.7" cy="533.5" r="1.8" fill="#F8766D"/>
<circle cx="544.3" cy="564.4" r="1.8" fill="#F8766D"/>
<circle cx="616.0" cy="539.5" r="1.8" fill="#F8766D"/>
<circle cx="448.8" cy="396.1" r="1.8" fill="#00BFC4"/>
<circle cx="458.9" cy="397.1" r="1.8" fill="#00BFC4"/>
<circle cx="488.3" cy="424.5" r="1.8" fill="#00BFC4"/>
<circle cx="487.8" cy="426.7" r="1.8" fill="#00BFC4"/>
<circle cx="443.3" cy="435.8" r="1.8" fill="#00BFC4"/>
<circle cx="495.8" cy="447.6" r="1.8" fill="#00BFC4"/>
<circle cx="483.2" cy="476.7" r="1.8" fill="#00BFC4"/>
<circle cx="501.1" cy="481.8" r="1.8" fill="#00BFC4"/>
<circle cx="510.2" cy="400.6" r="1.8" fill="#00BFC4"/>
<circle cx="519.2" cy="437.5" r="1.8" fill="#00BFC4"/>
<circle cx="523.5" cy="439.0" r="1.8" fill="#00BFC4"/>
<circle cx="505.9" cy="455.6" r="1.8" fill="#00BFC4"/>
<circle cx="507.4" cy="461.2" r="1.8" fill="#00BFC4"/>
<circle cx="367.7" cy="538.0" r="1.8" fill="#00BFC4"/>
<circle cx="461.4" cy="520.7" r="1.8" fill="#00BFC4"/>
<circle cx="475.7" cy="520.2" r="1.8" fill="#00BFC4"/>
<circle cx="484.0" cy="523.2" r="1.8" fill="#00BFC4"/>
<circle cx="481.0" cy="526.9" r="1.8" fill="#00BFC4"/>
<circle cx="483.5" cy="531.2" r="1.8" fill="#00BFC4"/>
<circle cx="492.5" cy="531.0" r="1.8" fill="#00BFC4"/>
<circle cx="499.1" cy="535.7" r="1.8" fill="#00BFC4"/>
<circle cx="522.2" cy="503.6" r="1.8" fill="#00BFC4"/>
<circle cx="603.9" cy="528.7" r="1.8" fill="#00BFC4"/>
<ellipse cx="483.11" cy="524.05" rx="117.11" ry="100.54" transform="rotate(-88.63 483.11 524.05)" fill="none" stroke="#F8766D" stroke-width="0.75"/>
<ellipse cx="491.15" cy="473.63" rx="119.50" ry="70.98" transform="rotate(-89.70 491.15 473.63)" fill="none" stroke="#00BFC4" stroke-width="0.75"/>
</g>
<line x1="410.5" x2="410.5" y1="654.5" y2="656.3" stroke="#333" stroke-width="0.6"/>
<text x="410.5" y="662.7" text-anchor="middle" class="tk">-2</text>
<line x1="488.8" x2="488.8" y1="654.5" y2="656.3" stroke="#333" stroke-width="0.6"/>
<text x="488.8" y="662.7" text-anchor="middle" class="tk">0</text>
<line x1="566.8" x2="566.8" y1="654.5" y2="656.3" stroke="#333" stroke-width="0.6"/>
<text x="566.8" y="662.7" text-anchor="middle" class="tk">2</text>
<line x1="353.9" x2="355.7" y1="390.6" y2="390.6" stroke="#333" stroke-width="0.6"/>
<text x="352.7" y="392.8" text-anchor="end" class="tk">2</text>
<line x1="353.9" x2="355.7" y1="443.8" y2="443.8" stroke="#333" stroke-width="0.6"/>
<text x="352.7" y="446.0" text-anchor="end" class="tk">1</text>
<line x1="353.9" x2="355.7" y1="496.9" y2="496.9" stroke="#333" stroke-width="0.6"/>
<text x="352.7" y="499.09999999999997" text-anchor="end" class="tk">0</text>
<line x1="353.9" x2="355.7" y1="550.1" y2="550.1" stroke="#333" stroke-width="0.6"/>
<text x="352.7" y="552.3000000000001" text-anchor="end" class="tk">-1</text>
<line x1="353.9" x2="355.7" y1="603.3" y2="603.3" stroke="#333" stroke-width="0.6"/>
<text x="352.7" y="605.5" text-anchor="end" class="tk">-2</text>
<text x="491.4" y="670.9" text-anchor="middle" textLength="13.6" lengthAdjust="spacingAndGlyphs" class="ax">PC1</text>
<text transform="translate(343.4 497.75) rotate(-90)" text-anchor="middle" textLength="13.9" lengthAdjust="spacingAndGlyphs" class="ax">PC2</text>
<text x="376" y="357.8" class="lb">TIBIA</text>
<text x="561.7" y="645.4" class="lb">41.3%-33.3%</text>
<text x="639.7" y="487.6" class="lt">group</text>
<rect x="640.1" y="491.9" width="10.8" height="11" fill="#F2F2F2"/>
<line x1="641.1" x2="649.9000000000001" y1="497.4" y2="497.4" stroke="#F8766D" stroke-width="0.75"/>
<circle cx="645.5" cy="497.4" r="1.8" fill="#F8766D"/>
<text x="654.9000000000001" y="499.4" class="lg">left</text>
<rect x="640.1" y="503.4" width="10.8" height="11" fill="#F2F2F2"/>
<line x1="641.1" x2="649.9000000000001" y1="508.9" y2="508.9" stroke="#00BFC4" stroke-width="0.75"/>
<circle cx="645.5" cy="508.9" r="1.8" fill="#00BFC4"/>
<text x="654.9000000000001" y="510.9" class="lg">right</text>
</svg>
</body></html>
